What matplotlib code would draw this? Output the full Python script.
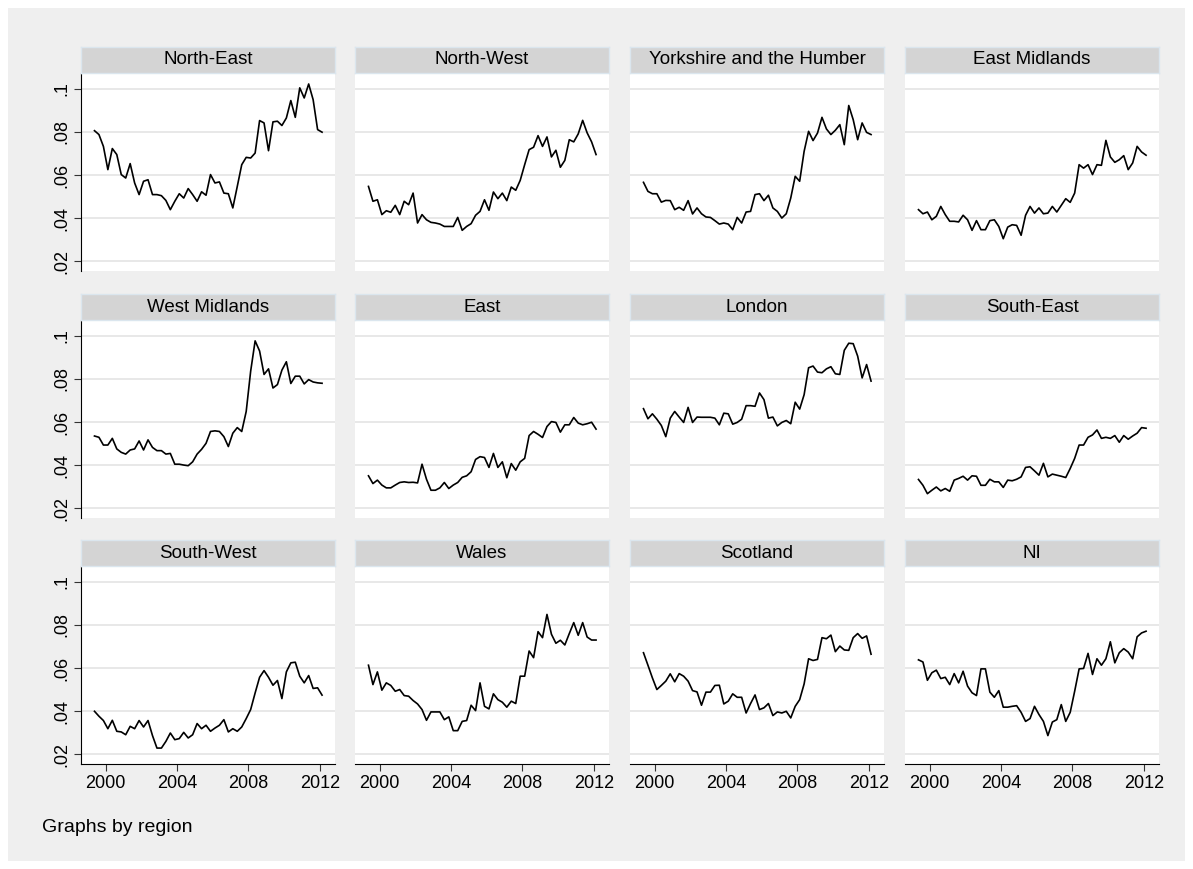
import numpy as np
import pandas as pd
import matplotlib
matplotlib.use("Agg")
import matplotlib.pyplot as plt
from matplotlib.patches import Rectangle

plt.rcParams['font.family'] = ['Liberation Sans', 'DejaVu Sans']

# quarterly observations, 1999q2 .. 2012q1
quarters = pd.period_range('1999Q2', '2012Q1', freq='Q')
t = quarters.year + (quarters.quarter - 1) / 4 + 0.125

regions = ["North-East", "North-West", "Yorkshire and the Humber", "East Midlands",
           "West Midlands", "East", "London", "South-East",
           "South-West", "Wales", "Scotland", "NI"]

north_east = [0.0806, 0.0788, 0.0733, 0.0625, 0.0723, 0.0695, 0.0602, 0.0586, 0.0653, 0.0563,
              0.0509, 0.0571, 0.0578, 0.0509, 0.0509, 0.0504, 0.0482, 0.0439, 0.0478, 0.0513,
              0.0493, 0.0537, 0.0509, 0.0478, 0.0522, 0.0506, 0.0602, 0.0563, 0.0568, 0.0516,
              0.0513, 0.0447, 0.0547, 0.0648, 0.0682, 0.0679, 0.0702, 0.0853, 0.0842, 0.0713,
              0.0847, 0.0850, 0.0830, 0.0865, 0.0946, 0.0868, 0.1005, 0.0958, 0.1023, 0.0950,
              0.0811, 0.0799]
north_west = [0.0547, 0.0478, 0.0485, 0.0416, 0.0434, 0.0427, 0.0459, 0.0416, 0.0478, 0.0462,
              0.0516, 0.0377, 0.0416, 0.0392, 0.0380, 0.0377, 0.0372, 0.0361, 0.0361, 0.0361,
              0.0403, 0.0343, 0.0361, 0.0374, 0.0413, 0.0431, 0.0485, 0.0436, 0.0521, 0.0490,
              0.0516, 0.0481, 0.0544, 0.0529, 0.0575, 0.0648, 0.0718, 0.0729, 0.0783, 0.0733,
              0.0777, 0.0684, 0.0715, 0.0636, 0.0668, 0.0764, 0.0754, 0.0791, 0.0854, 0.0796,
              0.0754, 0.0695]
yorkshire = [0.0566, 0.0524, 0.0513, 0.0513, 0.0474, 0.0482, 0.0481, 0.0439, 0.0450, 0.0436,
             0.0481, 0.0419, 0.0447, 0.0420, 0.0405, 0.0403, 0.0388, 0.0372, 0.0377, 0.0372,
             0.0346, 0.0403, 0.0377, 0.0428, 0.0431, 0.0509, 0.0513, 0.0481, 0.0506, 0.0447,
             0.0431, 0.0400, 0.0420, 0.0493, 0.0594, 0.0571, 0.0710, 0.0803, 0.0760, 0.0795,
             0.0868, 0.0814, 0.0788, 0.0808, 0.0834, 0.0741, 0.0923, 0.0857, 0.0764, 0.0842,
             0.0798, 0.0788]
east_midlands = [0.0439, 0.0420, 0.0428, 0.0392, 0.0408, 0.0454, 0.0416, 0.0385, 0.0385, 0.0382,
                 0.0413, 0.0392, 0.0343, 0.0388, 0.0346, 0.0346, 0.0388, 0.0392, 0.0361, 0.0304,
                 0.0358, 0.0369, 0.0366, 0.0320, 0.0413, 0.0454, 0.0423, 0.0447, 0.0420, 0.0423,
                 0.0454, 0.0428, 0.0459, 0.0490, 0.0473, 0.0516, 0.0648, 0.0632, 0.0648, 0.0602,
                 0.0648, 0.0645, 0.0761, 0.0684, 0.0659, 0.0671, 0.0690, 0.0625, 0.0656, 0.0733,
                 0.0707, 0.0692]
west_midlands = [0.0535, 0.0529, 0.0493, 0.0493, 0.0524, 0.0475, 0.0459, 0.0451, 0.0470, 0.0475,
                 0.0512, 0.0470, 0.0517, 0.0482, 0.0467, 0.0467, 0.0451, 0.0454, 0.0404, 0.0404,
                 0.0400, 0.0397, 0.0415, 0.0451, 0.0473, 0.0501, 0.0556, 0.0559, 0.0556, 0.0532,
                 0.0486, 0.0548, 0.0574, 0.0556, 0.0649, 0.0836, 0.0977, 0.0930, 0.0821, 0.0847,
                 0.0758, 0.0774, 0.0841, 0.0880, 0.0779, 0.0813, 0.0813, 0.0777, 0.0797, 0.0786,
                 0.0782, 0.0780]
east = [0.0350, 0.0314, 0.0330, 0.0307, 0.0294, 0.0294, 0.0307, 0.0319, 0.0322, 0.0319,
        0.0320, 0.0317, 0.0404, 0.0334, 0.0283, 0.0283, 0.0294, 0.0319, 0.0291, 0.0307,
        0.0319, 0.0343, 0.0350, 0.0369, 0.0426, 0.0439, 0.0435, 0.0389, 0.0454, 0.0389,
        0.0415, 0.0341, 0.0407, 0.0376, 0.0415, 0.0431, 0.0537, 0.0556, 0.0543, 0.0528,
        0.0579, 0.0602, 0.0598, 0.0553, 0.0587, 0.0587, 0.0621, 0.0595, 0.0587, 0.0592,
        0.0599, 0.0567]
london = [0.0662, 0.0615, 0.0638, 0.0613, 0.0584, 0.0532, 0.0618, 0.0649, 0.0623, 0.0598,
          0.0668, 0.0598, 0.0623, 0.0622, 0.0622, 0.0622, 0.0618, 0.0587, 0.0641, 0.0638,
          0.0590, 0.0598, 0.0613, 0.0676, 0.0676, 0.0673, 0.0735, 0.0704, 0.0618, 0.0623,
          0.0582, 0.0598, 0.0607, 0.0592, 0.0692, 0.0660, 0.0727, 0.0852, 0.0860, 0.0832,
          0.0829, 0.0847, 0.0857, 0.0824, 0.0821, 0.0933, 0.0966, 0.0964, 0.0906, 0.0805,
          0.0867, 0.0790]
south_east = [0.0333, 0.0306, 0.0267, 0.0283, 0.0298, 0.0280, 0.0291, 0.0278, 0.0330, 0.0338,
              0.0348, 0.0330, 0.0350, 0.0348, 0.0306, 0.0306, 0.0334, 0.0322, 0.0322, 0.0296,
              0.0330, 0.0327, 0.0334, 0.0345, 0.0389, 0.0392, 0.0373, 0.0353, 0.0408, 0.0345,
              0.0358, 0.0353, 0.0348, 0.0342, 0.0384, 0.0431, 0.0493, 0.0493, 0.0529, 0.0540,
              0.0563, 0.0524, 0.0529, 0.0524, 0.0537, 0.0506, 0.0537, 0.0520, 0.0535, 0.0548,
              0.0574, 0.0571]
south_west = [0.0399, 0.0376, 0.0356, 0.0318, 0.0357, 0.0306, 0.0303, 0.0290, 0.0329, 0.0318,
              0.0356, 0.0326, 0.0356, 0.0286, 0.0228, 0.0228, 0.0259, 0.0298, 0.0267, 0.0272,
              0.0301, 0.0275, 0.0290, 0.0342, 0.0318, 0.0334, 0.0306, 0.0321, 0.0334, 0.0360,
              0.0303, 0.0318, 0.0306, 0.0326, 0.0365, 0.0407, 0.0484, 0.0557, 0.0588, 0.0557,
              0.0520, 0.0542, 0.0458, 0.0582, 0.0624, 0.0627, 0.0562, 0.0531, 0.0565, 0.0505,
              0.0508, 0.0474]
wales = [0.0613, 0.0523, 0.0582, 0.0497, 0.0531, 0.0519, 0.0492, 0.0500, 0.0472, 0.0469,
         0.0449, 0.0433, 0.0407, 0.0357, 0.0396, 0.0396, 0.0396, 0.0360, 0.0373, 0.0309,
         0.0309, 0.0352, 0.0356, 0.0427, 0.0402, 0.0531, 0.0422, 0.0410, 0.0480, 0.0453,
         0.0441, 0.0418, 0.0446, 0.0435, 0.0562, 0.0562, 0.0679, 0.0648, 0.0769, 0.0741,
         0.0849, 0.0757, 0.0715, 0.0729, 0.0707, 0.0760, 0.0811, 0.0752, 0.0811, 0.0744,
         0.0730, 0.0730]
scotland = [0.0671, 0.0613, 0.0554, 0.0500, 0.0519, 0.0539, 0.0573, 0.0536, 0.0574, 0.0562,
            0.0539, 0.0495, 0.0489, 0.0427, 0.0488, 0.0488, 0.0519, 0.0520, 0.0433, 0.0446,
            0.0480, 0.0464, 0.0464, 0.0391, 0.0435, 0.0475, 0.0407, 0.0415, 0.0435, 0.0379,
            0.0396, 0.0391, 0.0399, 0.0368, 0.0422, 0.0453, 0.0526, 0.0643, 0.0635, 0.0640,
            0.0741, 0.0736, 0.0753, 0.0676, 0.0702, 0.0684, 0.0682, 0.0741, 0.0760, 0.0738,
            0.0749, 0.0664]
ni = [0.0638, 0.0628, 0.0543, 0.0578, 0.0590, 0.0551, 0.0557, 0.0523, 0.0574, 0.0531,
      0.0585, 0.0516, 0.0485, 0.0472, 0.0596, 0.0596, 0.0488, 0.0464, 0.0495, 0.0418,
      0.0418, 0.0422, 0.0425, 0.0394, 0.0352, 0.0365, 0.0422, 0.0384, 0.0352, 0.0286,
      0.0349, 0.0360, 0.0430, 0.0352, 0.0394, 0.0492, 0.0596, 0.0598, 0.0668, 0.0570,
      0.0643, 0.0613, 0.0643, 0.0722, 0.0624, 0.0671, 0.0690, 0.0674, 0.0643, 0.0745,
      0.0763, 0.0771]

series = [north_east, north_west, yorkshire, east_midlands,
          west_midlands, east, london, south_east,
          south_west, wales, scotland, ni]

yticks = [0.02, 0.04, 0.06, 0.08, 0.1]
yticklabels = [".02", ".04", ".06", ".08", ".1"]
xticks = [2000, 2004, 2008, 2012]

W, H = 1193, 869
fig = plt.figure(figsize=(W / 100, H / 100), dpi=100, facecolor="white")
fig.patches.append(Rectangle((8 / W, 8 / H), 1 - 16 / W, 1 - 16 / H,
                             transform=fig.transFigure, facecolor="#efefef",
                             edgecolor="none", zorder=-10))

col_left = [81, 355, 630, 905]
col_w = 254
row_top = [73, 320, 566]
row_h = 198
strip_h = 26

for k, (name, vals) in enumerate(zip(regions, series)):
    r, c = divmod(k, 4)
    x0, y0 = col_left[c], row_top[r]
    ax = fig.add_axes([x0 / W, 1 - (y0 + row_h) / H, col_w / W, row_h / H])
    ax.set_facecolor("white")
    ax.plot(t, vals, color="black", lw=1.2)
    ax.set_xlim(1998.62, 2012.85)
    ax.set_ylim(0.0154, 0.1074)
    ax.set_yticks(yticks)
    ax.set_xticks(xticks)
    ax.grid(axis="y", color="#e4e4e4", lw=1.2)
    ax.set_axisbelow(True)
    for s in ax.spines.values():
        s.set_visible(False)
    ax.tick_params(length=5, width=0.8, color="#333333", labelsize=13, pad=3)
    if c == 0:
        ax.spines["left"].set_visible(True)
        ax.set_yticklabels(yticklabels, rotation=90, va="center")
    else:
        ax.tick_params(axis="y", left=False, labelleft=False)
    if r == 2:
        ax.spines["bottom"].set_visible(True)
        ax.set_xticklabels([str(x) for x in xticks])
    else:
        ax.tick_params(axis="x", bottom=False, labelbottom=False)

    sax = fig.add_axes([x0 / W, 1 - y0 / H, col_w / W, strip_h / H])
    sax.set_facecolor("#d4d4d4")
    sax.set_xticks([])
    sax.set_yticks([])
    for s in sax.spines.values():
        s.set_color("#dbe6ee")
        s.set_linewidth(1)
    sax.text(0.5, 0.5, name, ha="center", va="center", fontsize=13.5,
             transform=sax.transAxes)

fig.text(42 / W, 1 - 828 / H, "Graphs by region", fontsize=14, va="center", ha="left")

fig.savefig("out.png", dpi=100, facecolor=fig.get_facecolor())
